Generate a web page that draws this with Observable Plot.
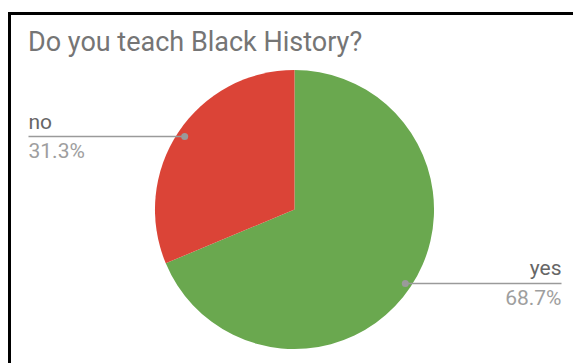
<!DOCTYPE html>
<html><head><meta charset="utf-8">
<script src="https://cdn.jsdelivr.net/npm/d3@7"></script>
<script src="https://cdn.jsdelivr.net/npm/@observablehq/plot@0.6"></script>
<style>
body{margin:0;background:#fff;}
#wrap{position:relative;width:573px;height:363px;overflow:hidden;background:#fff;}
#chart{position:absolute;left:0;top:0;}
#frame{position:absolute;left:8px;top:12px;width:700px;height:500px;border-top:3px solid #000;border-left:3px solid #000;pointer-events:none;}
#title{position:absolute;left:28px;top:29px;font-family:Roboto;font-size:27px;line-height:27px;color:#757575;white-space:nowrap;}
</style></head><body>
<div id="wrap"><div id="chart"></div><div id="frame"></div><div id="title"></div></div>
<script>
const titleText = "Do you teach Black History?";
const categories = ["yes", "no"];
const values = [68.7, 31.3];
const percentLabels = ["68.7%", "31.3%"];
const sliceColors = ["#6aa84f", "#db4437"];

document.getElementById("title").textContent = titleText;

const rows = categories.map((c, i) => ({category: c, value: values[i], label: percentLabels[i]}));
const arcs = d3.pie().sort(null).value(d => d.value)(rows);
const labelEdge = 1.91;   // label column edge, in pie radii
const dotRadius = 0.95;   // leader dot, in pie radii
const slices = arcs.map(a => {
  const mid = (a.startAngle + a.endAngle) / 2;
  const px = Math.sin(mid) * dotRadius, py = Math.cos(mid) * dotRadius;
  const side = px < 0 ? -1 : 1;
  return {...a.data, startAngle: a.startAngle, endAngle: a.endAngle, px, py, side, lx: side * labelEdge};
});

const color = Plot.scale({color: {domain: categories, range: sliceColors}});

function pieMark(index, scales) {
  const {x, y} = scales;
  const r = x(1) - x(0);
  const arc = d3.arc().innerRadius(0).outerRadius(r);
  const g = d3.create("svg:g").attr("transform", `translate(${x(0)},${y(0)})`);
  g.selectAll("path").data(slices).join("path")
    .attr("d", d => arc(d))
    .attr("fill", d => color.apply(d.category));
  return g.node();
}

const nameColor = "#666666", pctColor = "#9e9e9e", leaderColor = "#9a9a9a";
const textMarks = [];
for (const [side, anchor] of [[-1, "start"], [1, "end"]]) {
  const f = d => d.side === side;
  textMarks.push(
    Plot.text(slices, {filter: f, x: "lx", y: "py", text: "category", textAnchor: anchor, lineAnchor: "bottom", dy: -8, fontSize: 21, fill: nameColor}),
    Plot.text(slices, {filter: f, x: "lx", y: "py", text: "label", textAnchor: anchor, lineAnchor: "top", dy: 7, fontSize: 21, fill: pctColor})
  );
}

const chart = Plot.plot({
  width: 573, height: 363,
  marginLeft: 28, marginRight: 12, marginTop: 70, marginBottom: 14,
  x: {domain: [-labelEdge, labelEdge], axis: null},
  y: {domain: [-1, 1], axis: null},
  style: {fontFamily: "Roboto", background: "transparent"},
  marks: [
    pieMark,
    Plot.link(slices, {x1: "px", y1: "py", x2: "lx", y2: "py", stroke: leaderColor, strokeWidth: 1.6}),
    Plot.dot(slices, {x: "px", y: "py", r: 3.5, fill: leaderColor}),
    ...textMarks
  ]
});
document.getElementById("chart").appendChild(chart);
</script>
</body></html>
